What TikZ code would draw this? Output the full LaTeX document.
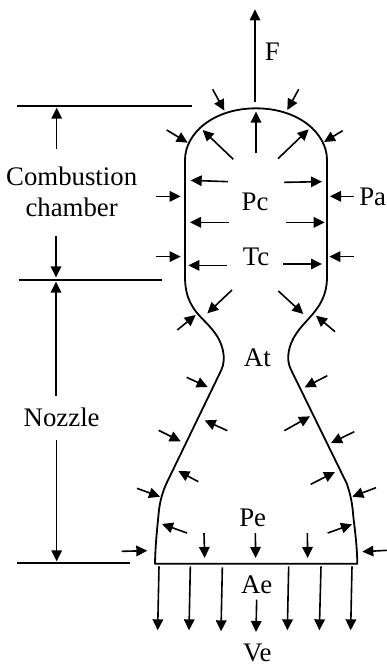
\documentclass[tikz,border=0pt]{standalone}
\usepackage{fontspec}
\setmainfont{Liberation Serif}
\usetikzlibrary{arrows.meta}
\tikzset{
  arr/.style={-{Triangle[length=11pt,width=10.5pt]},line width=1.6pt,black},
  wall/.style={line width=1.8pt,black,line join=round},
  dim/.style={line width=1.6pt,black},
  lab/.style={font=\fontsize{26.8}{30.5}\selectfont,inner sep=0pt,text=black}
}
\newcommand{\arrs}[1]{\foreach \ax/\ay/\bx/\by in {#1}{\draw[arr] (\ax,\ay) -- (\bx,\by);}}
\begin{document}
\begin{tikzpicture}[x=0.3333pt,y=-0.3333pt]
\useasboundingbox (0,0) rectangle (1161,1998);
% nozzle wall
\draw[wall] (465,1691) .. controls (466,1640) and (470,1600) .. (475,1550)
  .. controls (478,1510) and (485,1485) .. (497,1455)
  -- (664,1110)
  .. controls (680,1075) and (668,1030) .. (645,999)
  .. controls (620,965) and (590,945) .. (575,915)
  .. controls (560,890) and (555,860) .. (555,830)
  -- (555,480)
  .. controls (555,400) and (640,325) .. (768,325)
  .. controls (896,325) and (981,400) .. (981,480)
  -- (981,830)
  .. controls (981,860) and (975,890) .. (955,920)
  .. controls (935,950) and (910,970) .. (890,999)
  .. controls (865,1035) and (858,1075) .. (871,1105)
  -- (1040,1450)
  .. controls (1052,1485) and (1057,1510) .. (1060,1550)
  .. controls (1066,1600) and (1071,1640) .. (1072,1691)
  -- cycle;
% dimension lines
\draw[dim] (52,318) -- (576,318);
\draw[dim] (56,840) -- (485,840);
\draw[dim] (52,1689) -- (390,1689);
% labels
\node[lab] (F) at (817,155) {F};
\node[lab,align=center] (comb) at (215,576) {Combustion\\chamber};
\node[lab] (Pa) at (1118,592) {Pa};
\node[lab] (Pc) at (765,605) {Pc};
\node[lab] (Tc) at (768,770) {Tc};
\node[lab] (At) at (772,1074) {At};
\node[lab] (Nozzle) at (185,1251) {Nozzle};
\node[lab] (Pe) at (758,1554) {Pe};
\node[lab] (Ae) at (770,1754) {Ae};
\node[lab] (Ve) at (772,1960) {Ve};
% forces and flow, upper part
\arrs{765/305/765/28, 638/268/673/332, 896/268/862/330, 500/390/563/428, 1028/392/972/426,
  700/478/608/390, 768/460/768/335, 834/476/926/388, 684/545/572/541, 852/547/966/545,
  468/589/542/589, 1062/589/990/589, 687/667/570/667, 858/667/974/667, 468/770/542/770,
  1062/770/988/770, 680/796/565/796, 850/792/966/792, 696/870/622/940, 835/873/910/942,
  532/990/587/945, 1005/995/948/947, 170/447/170/323, 168/708/168/832, 168/1189/168/845}
% lower part
\arrs{170/1321/170/1684, 365/1654/442/1652, 1161/1651/1087/1655, 560/1132/623/1161, 982/1127/914/1162,
  682/1292/614/1261, 853/1292/930/1249, 476/1291/542/1324, 1063/1295/993/1329, 595/1445/535/1413,
  932/1453/1005/1416, 411/1465/480/1490, 1128/1463/1057/1490, 561/1599/486/1572, 983/1599/1056/1573,
  612/1599/614/1674, 766/1599/767/1674, 922/1599/923/1674, 477/1699/473/1891, 571/1699/567/1891,
  667/1702/663/1894, 770/1799/768/1896, 866/1699/862/1891, 963/1699/958/1891, 1056/1699/1052/1891}
\end{tikzpicture}
\end{document}
